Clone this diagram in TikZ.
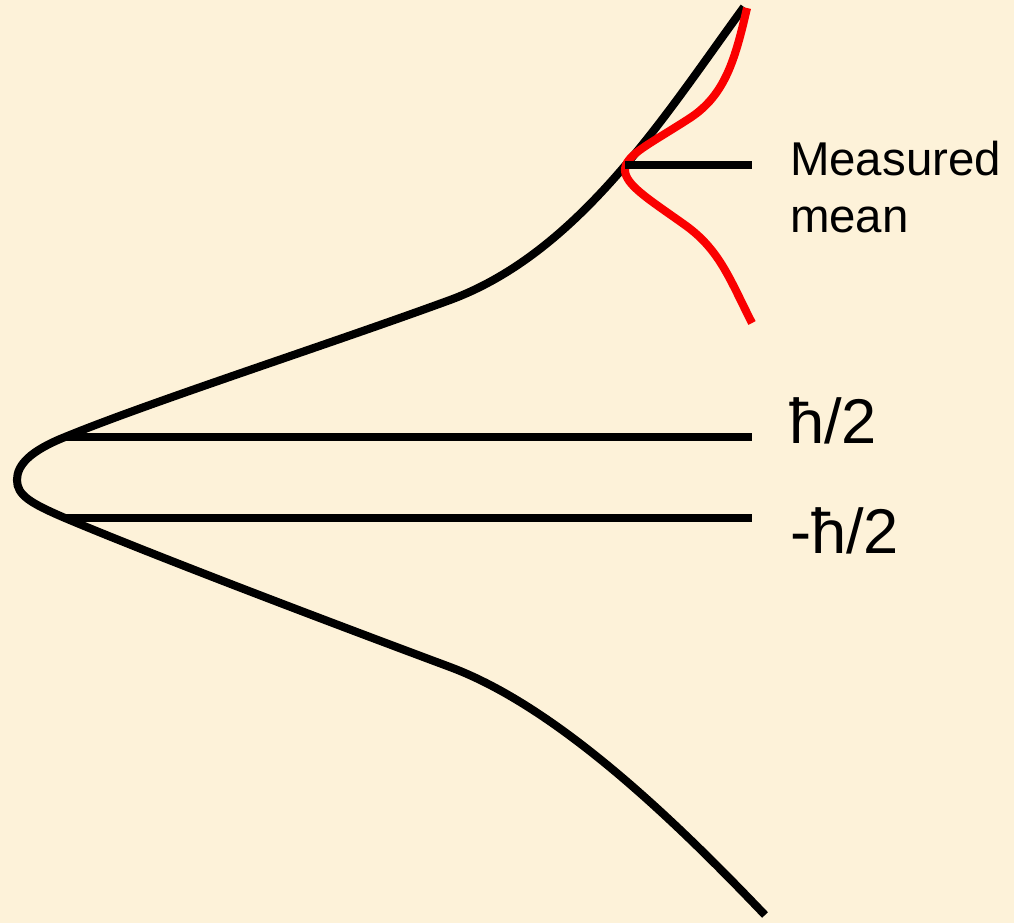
\documentclass[tikz,border=0pt]{standalone}
\usepackage{fontspec}
\setmainfont{Liberation Sans}
\usetikzlibrary{positioning}
\definecolor{paper}{RGB}{253,242,217}
\definecolor{wavered}{RGB}{250,0,0}

\begin{document}
\begin{tikzpicture}[x=0.02cm, y=-0.02cm, line width=4.6pt,
    label text/.style={inner sep=0pt, font=\fontsize{27}{32.5}\selectfont, align=left},
    level text/.style={inner sep=0pt, font=\fontsize{36}{40}\selectfont, anchor=base west}]
    \fill[paper] (0,0) rectangle (1014,923);
    \useasboundingbox (0,0) rectangle (1014,923);

    % broad distribution
    \draw (744,7) .. controls (665,115) and (580,252) .. (450,300)
        .. controls (330,344) and (150,402) .. (65,437)
        .. controls (30,451) and (17,465) .. (17,480)
        .. controls (17,495) and (30,503) .. (65,518)
        .. controls (160,558) and (340,626) .. (450,667)
        .. controls (560,708) and (680,826) .. (765,915);

    % narrow distribution after measurement
    \draw[wavered] (747,8) .. controls (735,60) and (725,95) .. (690,118)
        .. controls (650,144) and (625,155) .. (625,170)
        .. controls (625,185) and (650,200) .. (685,225)
        .. controls (720,250) and (730,280) .. (752,323);

    % levels
    \coordinate (mean) at (625,165);
    \coordinate (upL) at (65,437);
    \coordinate (dnL) at (65,518);
    \node[label text, anchor=west] (measured) at (786,187) {Measured\\mean};
    \node[level text] (up) at (785,443) {ħ/2};
    \node[level text] (dn) at (786,553) {-ħ/2};

    \draw (mean) -- (752,165);
    \draw (upL) -- (752,437);
    \draw (dnL) -- (752,518);
\end{tikzpicture}
\end{document}
